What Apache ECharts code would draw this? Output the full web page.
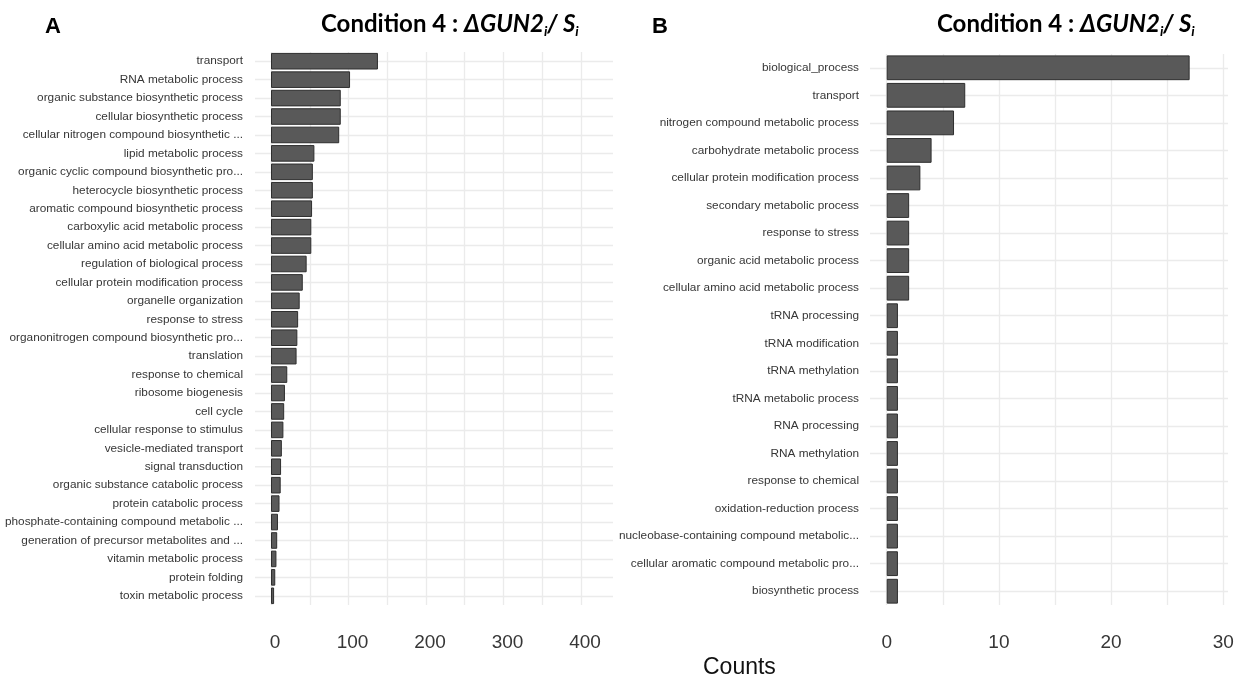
<!DOCTYPE html>
<html>
<head>
<meta charset="utf-8">
<script src="https://cdn.jsdelivr.net/npm/echarts@6/dist/echarts.min.js"></script>
<style>
html,body{margin:0;padding:0;background:#fff;}
#chart{width:1244px;height:679px;}
</style>
</head>
<body>
<div id="chart"></div>
<script>
// ---- Panel A data ----
const categoriesA = [
  "transport",
  "RNA metabolic process",
  "organic substance biosynthetic process",
  "cellular biosynthetic process",
  "cellular nitrogen compound biosynthetic ...",
  "lipid metabolic process",
  "organic cyclic compound biosynthetic pro...",
  "heterocycle biosynthetic process",
  "aromatic compound biosynthetic process",
  "carboxylic acid metabolic process",
  "cellular amino acid metabolic process",
  "regulation of biological process",
  "cellular protein modification process",
  "organelle organization",
  "response to stress",
  "organonitrogen compound biosynthetic pro...",
  "translation",
  "response to chemical",
  "ribosome biogenesis",
  "cell cycle",
  "cellular response to stimulus",
  "vesicle-mediated transport",
  "signal transduction",
  "organic substance catabolic process",
  "protein catabolic process",
  "phosphate-containing compound metabolic ...",
  "generation of precursor metabolites and ...",
  "vitamin metabolic process",
  "protein folding",
  "toxin metabolic process"
];
const countsA = [138, 102, 90, 90, 88, 56, 54, 54, 53, 52, 52, 46, 41, 37, 35, 34, 33, 21, 18, 17, 16, 14, 13, 12.5, 11, 9, 8, 7, 5.5, 4];
const tickLabelsA = [0, 100, 200, 300, 400];
const gridValuesA = [0, 50, 100, 150, 200, 250, 300, 350, 400];

// ---- Panel B data ----
const categoriesB = [
  "biological_process",
  "transport",
  "nitrogen compound metabolic process",
  "carbohydrate metabolic process",
  "cellular protein modification process",
  "secondary metabolic process",
  "response to stress",
  "organic acid metabolic process",
  "cellular amino acid metabolic process",
  "tRNA processing",
  "tRNA modification",
  "tRNA methylation",
  "tRNA metabolic process",
  "RNA processing",
  "RNA methylation",
  "response to chemical",
  "oxidation-reduction process",
  "nucleobase-containing compound metabolic...",
  "cellular aromatic compound metabolic pro...",
  "biosynthetic process"
];
const countsB = [27, 7, 6, 4, 3, 2, 2, 2, 2, 1, 1, 1, 1, 1, 1, 1, 1, 1, 1, 1];
const tickLabelsB = [0, 10, 20, 30];
const gridValuesB = [0, 5, 10, 15, 20, 25, 30];

const titleA = "A";
const titleB = "B";
const axisTitle = "Counts";

const chart = echarts.init(document.getElementById('chart'), null, {renderer: 'canvas'});

const gridA = {left: 255, top: 52, width: 358, height: 553};
const gridB = {left: 870, top: 54, width: 358, height: 551};

const GRIDCOL = '#ebebeb';
const BARFILL = '#595959';
const BARLINE = '#2e2e2e';
const TXT = '#363636';

function xAxisFor(idx, grid, min, max, labels, gridVals, pad) {
  return {
    gridIndex: idx, type: 'value', min: min, max: max,
    axisLine: {show: false, onZero: false},
    splitLine: {show: false},
    axisTick: {show: true, inside: true, length: grid.height, customValues: gridVals,
      lineStyle: {color: GRIDCOL, width: 1.3}},
    axisLabel: {customValues: labels, fontFamily: 'Liberation Sans', fontSize: 19,
      color: TXT, margin: 28, padding: pad}
  };
}
function yAxisFor(idx, grid, cats, fs, margin) {
  return {
    gridIndex: idx, type: 'category', data: cats, inverse: true,
    axisLine: {show: false, onZero: false},
    splitLine: {show: false},
    axisTick: {show: true, inside: true, alignWithLabel: true, length: grid.width,
      lineStyle: {color: GRIDCOL, width: 1.3}},
    axisLabel: {fontFamily: 'Liberation Sans', fontSize: fs, color: TXT, margin: margin, interval: 0}
  };
}

const titleRich = {
  n: {fontFamily: 'Lato', fontWeight: 'bold', fontSize: 24, color: '#000', lineHeight: 28},
  it: {fontFamily: 'Lato', fontWeight: 'bold', fontStyle: 'italic', fontSize: 24, color: '#000', lineHeight: 28},
  sub: {fontFamily: 'Lato', fontWeight: 'bold', fontStyle: 'italic', fontSize: 14, color: '#000', lineHeight: 14, verticalAlign: 'bottom'}
};
const titleText = '{n|Condition 4 : }{it|ΔGUN2}{sub|i}{it|/ S}{sub|i}';

const option = {
  animation: false,
  backgroundColor: '#ffffff',
  grid: [
    Object.assign({containLabel: false}, gridA),
    Object.assign({containLabel: false}, gridB)
  ],
  xAxis: [
    xAxisFor(0, gridA, -20.65, 441.3, tickLabelsA, gridValuesA, [0, 0, 0, 8]),
    xAxisFor(1, gridB, -1.49, 30.42, tickLabelsB, gridValuesB, [0, 0, 0, 0])
  ],
  yAxis: [
    yAxisFor(0, gridA, categoriesA, 11.8, 12),
    yAxisFor(1, gridB, categoriesB, 11.8, 11)
  ],
  series: [
    {type: 'bar', xAxisIndex: 0, yAxisIndex: 0, data: countsA, barCategoryGap: '10%',
      itemStyle: {color: BARFILL, borderColor: BARLINE, borderWidth: 1}},
    {type: 'bar', xAxisIndex: 1, yAxisIndex: 1, data: countsB, barCategoryGap: '10%',
      itemStyle: {color: BARFILL, borderColor: BARLINE, borderWidth: 1}}
  ],
  graphic: [
    {type: 'text', left: 45, top: 16, style: {text: titleA, fontFamily: 'Liberation Sans', fontWeight: 'bold', fontSize: 22, fill: '#000'}},
    {type: 'text', left: 652, top: 16, style: {text: titleB, fontFamily: 'Liberation Sans', fontWeight: 'bold', fontSize: 22, fill: '#000'}},
    {type: 'text', left: 321, top: 12, style: {text: titleText, rich: titleRich}},
    {type: 'text', left: 937, top: 12, style: {text: titleText, rich: titleRich}},
    {type: 'text', left: 703, top: 656, style: {text: axisTitle, fontFamily: 'Liberation Sans', fontSize: 23, fill: '#111'}}
  ]
};
chart.setOption(option);
</script>
</body>
</html>
